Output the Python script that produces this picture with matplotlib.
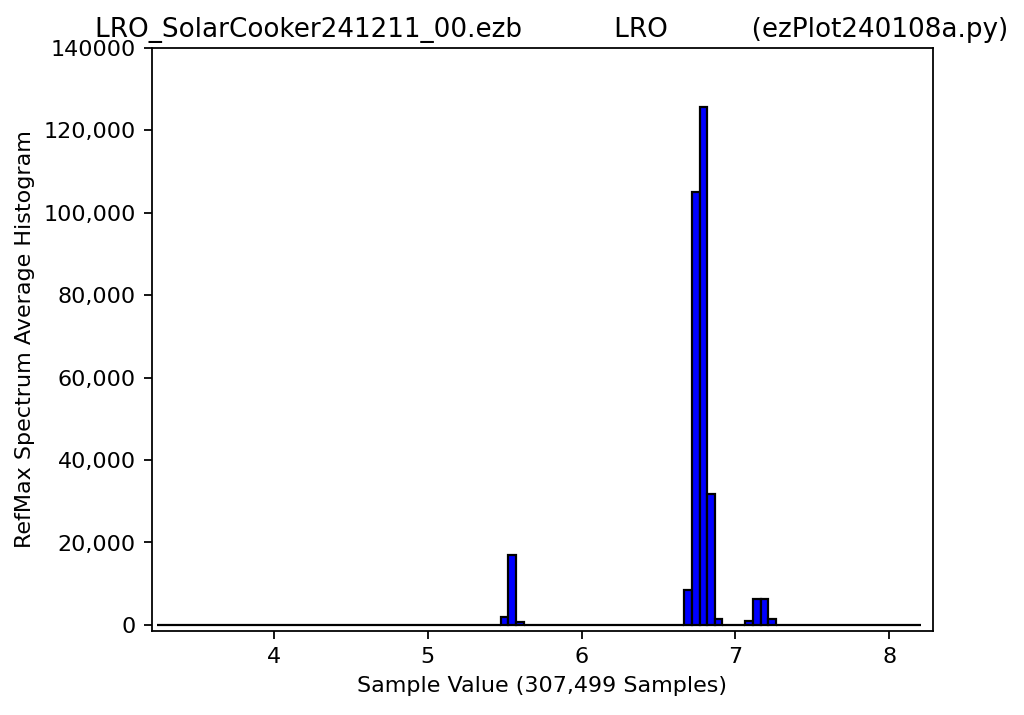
#!/usr/bin/env python3
import numpy as np
import matplotlib
matplotlib.use('Agg')
import matplotlib.pyplot as plt

# histogram: 100 bins between the min and max sample value
sample_min = 3.240
sample_max = 8.207
n_bins = 100

# nonzero bins (bin index : count), all other bins are 0
nz_bins = [45, 46, 47, 69, 70, 71, 72, 73, 77, 78, 79, 80]
nz_counts = [1900, 17000, 800, 8500, 104900, 125600, 31800, 1500,
             1000, 6400, 6200, 1500]

ytick_vals = [0, 20000, 40000, 60000, 80000, 100000, 120000, 140000]
ytick_labels = ['0', '20,000', '40,000', '60,000', '80,000', '100,000',
                '120,000', '140000']
xtick_vals = [4, 5, 6, 7, 8]

title = 'LRO_SolarCooker241211_00.ezb           LRO          (ezPlot240108a.py)'
xlabel = 'Sample Value (307,499 Samples)'
ylabel = 'RefMax Spectrum Average Histogram'

edges = np.linspace(sample_min, sample_max, n_bins + 1)
counts = np.zeros(n_bins)
for b, c in zip(nz_bins, nz_counts):
    counts[b] = c
centers = (edges[:-1] + edges[1:]) / 2

fig = plt.figure(figsize=(6.4, 4.47), dpi=160)
ax = fig.add_axes([0.148, 0.1175, 0.763, 0.8155])
ax.hist(centers, bins=edges, weights=counts, color='blue', edgecolor='black', linewidth=1)

ax.set_xlim(3.207, 8.282)
ax.set_ylim(-1460, 140000)
ax.set_xticks(xtick_vals)
ax.set_yticks(ytick_vals)
ax.set_yticklabels(ytick_labels)
ax.set_title(title, fontsize=11.8, pad=5, x=0.512)
ax.set_xlabel(xlabel)
ax.set_ylabel(ylabel)

fig.savefig('out.png', dpi=160)
